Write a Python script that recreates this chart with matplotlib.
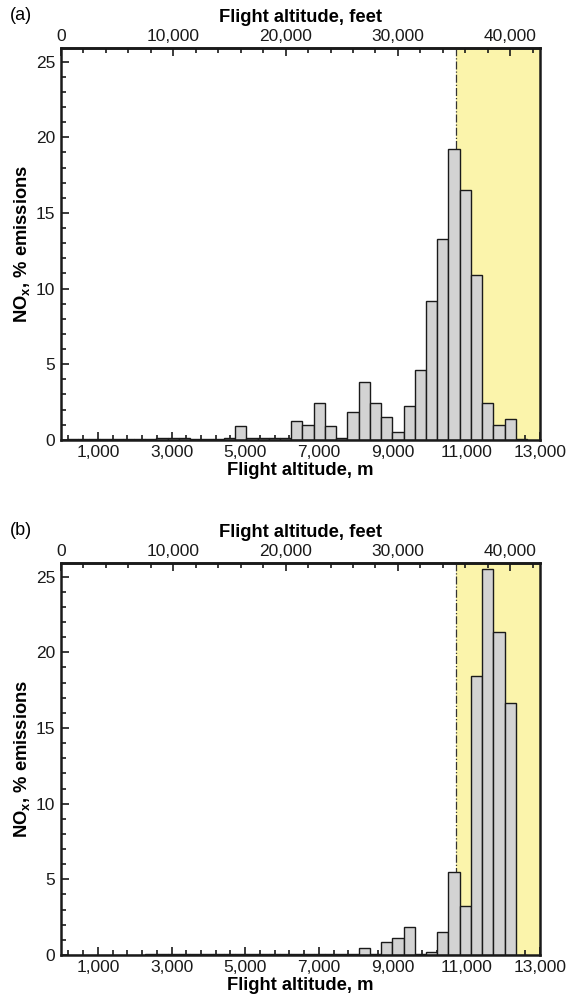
import numpy as np
import matplotlib
matplotlib.use("Agg")
import matplotlib.pyplot as plt
import matplotlib.ticker as ticker

plt.rcParams['font.family'] = ['Liberation Sans', 'DejaVu Sans']
plt.rcParams['mathtext.fontset'] = 'custom'
plt.rcParams['mathtext.rm'] = 'Liberation Sans:bold'
plt.rcParams['mathtext.it'] = 'Liberation Sans:bold'
plt.rcParams['mathtext.bf'] = 'Liberation Sans:bold'

FT = 0.3048

# bin centres in feet (1000 ft bins)
bin_ft = np.arange(1000, 42000, 1000)

# panel (a) NOx % emissions per bin
nox_a = [0.03, 0.03, 0.05, 0.05, 0.05, 0.05, 0.05, 0.05, 0.1, 0.1,
         0.1, 0.05, 0.05, 0.08, 0.1, 0.93, 0.1, 0.1, 0.1, 0.15,
         1.26, 0.97, 2.47, 0.93, 0.1, 1.81, 3.81, 2.47, 1.54, 0.55,
         2.23, 4.61, 9.21, 13.29, 19.25, 16.49, 10.91, 2.47, 1.01, 1.41,
         0.05]

# panel (b)
nox_b = [0.02, 0.02, 0.02, 0.02, 0.02, 0.02, 0.02, 0.03, 0.03, 0.03,
         0.03, 0.03, 0.03, 0.03, 0.03, 0.03, 0.03, 0.03, 0.03, 0.03,
         0.03, 0.03, 0.05, 0.03, 0.05, 0.03, 0.44, 0.05, 0.88, 1.15,
         1.83, 0.05, 0.2, 1.52, 5.51, 3.26, 18.47, 25.53, 21.36, 16.62,
         0.0]

panels = [("(a)", nox_a), ("(b)", nox_b)]
cruise_start_m = 10720
x_max_m = 13000

TICK_FS = 12.5
LABEL_FS = 13.2

fig = plt.figure(figsize=(5.69, 10.02), dpi=100)
boxes = [[0.1072, 0.561, 0.8418, 0.391], [0.1072, 0.047, 0.8418, 0.391]]

for (tag, vals), box in zip(panels, boxes):
    ax = fig.add_axes(box)
    ax.axvspan(cruise_start_m, x_max_m, color="#fbf4ab", zorder=0, lw=0)
    ax.axvline(cruise_start_m, color="#333333", lw=0.9, ls="-.", zorder=1)
    ax.bar(bin_ft * FT, vals, width=1000 * FT, color="#d3d3d3",
           edgecolor="#1a1a1a", linewidth=1.0, zorder=2)
    ax.set_xlim(0, x_max_m)
    ax.set_ylim(0, 25.9)

    ax.xaxis.set_major_locator(ticker.FixedLocator(np.arange(1000, 13001, 2000)))
    ax.xaxis.set_minor_locator(ticker.FixedLocator(np.arange(200, 13001, 400)))
    ax.xaxis.set_major_formatter(ticker.FuncFormatter(lambda v, p: f"{int(v):,}"))
    ax.yaxis.set_major_locator(ticker.MultipleLocator(5))
    ax.yaxis.set_minor_locator(ticker.MultipleLocator(1))
    ax.tick_params(which="both", direction="in", labelsize=TICK_FS, width=1.2,
                   colors="#1a1a1a", top=False, right=False)
    ax.tick_params(which="major", length=6, pad=4)
    ax.tick_params(which="minor", length=3.5)
    for s in ax.spines.values():
        s.set_linewidth(1.8)
        s.set_color("#1a1a1a")
        s.set_zorder(5)

    ax.set_xlabel("Flight altitude, m", fontsize=LABEL_FS, fontweight="bold", labelpad=1)
    ax.set_ylabel(r"$\mathregular{NO_x}$, % emissions", fontsize=LABEL_FS,
                  fontweight="bold", labelpad=3)

    sec = ax.secondary_xaxis("top", functions=(lambda m: m / FT, lambda f: f * FT))
    sec.xaxis.set_major_locator(ticker.FixedLocator(np.arange(0, 40001, 10000)))
    sec.xaxis.set_minor_locator(ticker.FixedLocator(np.arange(0, 42001, 2000)))
    sec.xaxis.set_major_formatter(ticker.FuncFormatter(lambda v, p: f"{int(v):,}"))
    sec.tick_params(which="both", direction="in", labelsize=TICK_FS, width=1.2, colors="#1a1a1a")
    sec.tick_params(which="major", length=6, pad=3)
    sec.tick_params(which="minor", length=3.5)
    sec.spines["top"].set_linewidth(1.8)
    sec.set_xlabel("Flight altitude, feet", fontsize=LABEL_FS, fontweight="bold", labelpad=5)

    fig.text(0.018, box[1] + box[3] + 0.033, tag, fontsize=13, ha="left", va="center")

fig.savefig("out.png", dpi=100)
